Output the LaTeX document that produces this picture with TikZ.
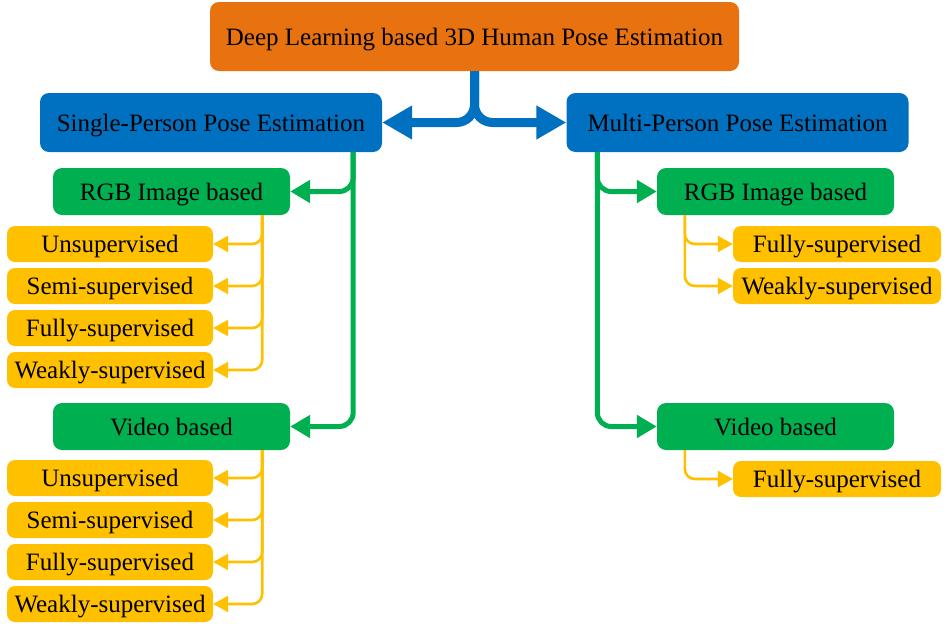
\documentclass[tikz,border=0pt]{standalone}
\usepackage{fontspec}
\setmainfont{Liberation Serif}
\usetikzlibrary{arrows.meta}
\definecolor{cOrange}{HTML}{E8720F}
\definecolor{cBlue}{HTML}{0070C0}
\definecolor{cGreen}{HTML}{00B050}
\definecolor{cYellow}{HTML}{FFC000}
\tikzset{
  box/.style={rounded corners=9pt, inner sep=0pt, align=center, font=\fontsize{25}{30}\selectfont, text=black, text height=23pt, text depth=6pt},
  topbox/.style={box, fill=cOrange, minimum width=529pt, minimum height=69pt},
  bluebox/.style={box, fill=cBlue, minimum width=342pt, minimum height=59pt},
  greenbox/.style={box, fill=cGreen, minimum width=237pt, minimum height=47pt},
  yelbox/.style={box, fill=cYellow, rounded corners=8pt, minimum width=206pt, minimum height=36pt},
  barrow/.style={draw=cBlue, line width=9pt, rounded corners=18pt, -{Triangle[length=30pt,width=32pt]}},
  garrow/.style={draw=cGreen, line width=5pt, rounded corners=14pt, -{Triangle[length=20pt,width=22pt]}},
  yarrow/.style={draw=cYellow, line width=2.6pt, rounded corners=10pt, -{Triangle[length=15pt,width=16pt]}}
}
\begin{document}
\begin{tikzpicture}[x=1pt,y=1pt]
\useasboundingbox (0,0) rectangle (948,-632);
% nodes
\node[topbox] (top) at (474.5,-36.5) {Deep Learning based 3D Human Pose Estimation};
\node[bluebox] (single) at (211,-122.5) {Single-Person Pose Estimation};
\node[bluebox] (multi) at (737.5,-122.5) {Multi-Person Pose Estimation};
\node[greenbox] (rgbL) at (171.5,-191.5) {RGB Image based};
\node[greenbox] (vidL) at (171.5,-426.5) {Video based};
\node[greenbox] (rgbR) at (775.5,-191.5) {RGB Image based};
\node[greenbox] (vidR) at (775.5,-426.5) {Video based};
% left RGB leaves
\node[yelbox] (rl1) at (110,-244) {Unsupervised};
\node[yelbox] (rl2) at (110,-286) {Semi-supervised};
\node[yelbox] (rl3) at (110,-328) {Fully-supervised};
\node[yelbox] (rl4) at (110,-370) {Weakly-supervised};
% left video leaves
\node[yelbox] (vl1) at (110,-478) {Unsupervised};
\node[yelbox] (vl2) at (110,-520) {Semi-supervised};
\node[yelbox] (vl3) at (110,-562) {Fully-supervised};
\node[yelbox] (vl4) at (110,-604) {Weakly-supervised};
% right leaves
\node[yelbox, minimum width=208pt] (rr1) at (837,-244) {Fully-supervised};
\node[yelbox, minimum width=208pt] (rr2) at (837,-286) {Weakly-supervised};
\node[yelbox, minimum width=208pt] (vr1) at (837,-479) {Fully-supervised};
% blue connectors
\draw[barrow] (top.south) |- (single.east);
\draw[barrow] (top.south) |- (multi.west);
% green connectors
\draw[garrow] ([xshift=-29pt]single.south east) |- (rgbL.east);
\draw[garrow] ([xshift=-29pt]single.south east) |- (vidL.east);
\draw[garrow] ([xshift=31pt]multi.south west) |- (rgbR.west);
\draw[garrow] ([xshift=31pt]multi.south west) |- (vidR.west);
% yellow connectors
\foreach \n in {rl1,rl2,rl3,rl4}{\draw[yarrow] ([xshift=-28pt]rgbL.south east) |- (\n.east);}
\foreach \n in {vl1,vl2,vl3,vl4}{\draw[yarrow] ([xshift=-28pt]vidL.south east) |- (\n.east);}
\foreach \n in {rr1,rr2}{\draw[yarrow] ([xshift=28pt]rgbR.south west) |- (\n.west);}
\draw[yarrow] ([xshift=28pt]vidR.south west) |- (vr1.west);
\end{tikzpicture}
\end{document}
